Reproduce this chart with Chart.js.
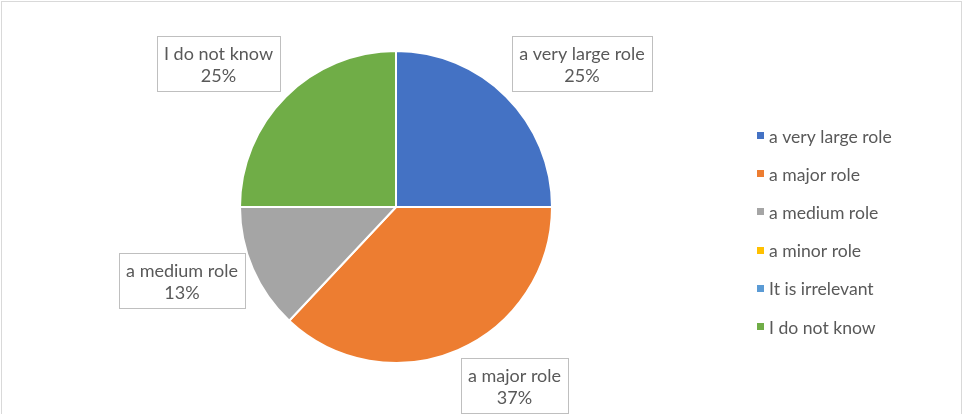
<!DOCTYPE html>
<html>
<head>
<meta charset="utf-8">
<script src="https://cdn.jsdelivr.net/npm/chart.js@4.4.1/dist/chart.umd.min.js"></script>
<style>
  html, body { margin: 0; padding: 0; background: #ffffff; }
  #wrap { position: relative; width: 963px; height: 414px; }
</style>
</head>
<body>
<div id="wrap"><canvas id="c" width="963" height="414"></canvas></div>
<script>
const categories = ["a very large role", "a major role", "a medium role", "a minor role", "It is irrelevant", "I do not know"];
const shares = [25, 37, 13, 0, 0, 25];
const sliceColors = ["#4472C4", "#ED7D31", "#A5A5A5", "#FFC000", "#5B9BD5", "#70AD47"];

const FONT = "Lato";
const FONT_SIZE = 18;
const LEGEND_FONT_SIZE = 17.6;
const TEXT_COLOR = "#595959";

const framePlugin = {
  id: "frame",
  beforeDraw(chart) {
    const ctx = chart.ctx;
    ctx.save();
    ctx.strokeStyle = "#D9D9D9";
    ctx.lineWidth = 1;
    ctx.strokeRect(1.5, 1.5, chart.width - 3, chart.height + 10);
    ctx.restore();
  }
};

const clamp = (v, a, b) => Math.max(a, Math.min(b, v));

const labelPlugin = {
  id: "boxLabels",
  afterDatasetsDraw(chart) {
    const ctx = chart.ctx;
    const meta = chart.getDatasetMeta(0);
    const data = chart.data.datasets[0].data;
    const total = data.reduce((a, b) => a + b, 0);
    ctx.save();
    ctx.font = FONT_SIZE + "px " + FONT;
    meta.data.forEach((arc, i) => {
      const v = data[i];
      if (!v) return;
      const p = arc.getProps(["x", "y", "startAngle", "endAngle", "outerRadius"], true);
      const mid = (p.startAngle + p.endAngle) / 2;
      const c = Math.cos(mid), s = Math.sin(mid);
      const dist = p.outerRadius + 8;
      const ax = p.x + dist * c, ay = p.y + dist * s;
      const line1 = chart.data.labels[i];
      const line2 = Math.round(v / total * 100) + "%";
      const tw = Math.max(ctx.measureText(line1).width, ctx.measureText(line2).width);
      const w = Math.round(tw + 14), h = 55;
      const fx = clamp(c * 3, -1, 1);
      const fy = Math.sign(s) * clamp((Math.abs(s) - 0.3) / 0.33, 0, 1);
      const cx = ax + fx * w / 2, cy = ay + fy * h / 2;
      const left = Math.round(cx - w / 2), top = Math.round(cy - h / 2);
      ctx.fillStyle = "#ffffff";
      ctx.fillRect(left, top, w, h);
      ctx.strokeStyle = "#BFBFBF";
      ctx.lineWidth = 1;
      ctx.strokeRect(left + 0.5, top + 0.5, w, h);
      ctx.fillStyle = TEXT_COLOR;
      ctx.textAlign = "center";
      ctx.textBaseline = "alphabetic";
      ctx.fillText(line1, left + w / 2, top + 24);
      ctx.fillText(line2, left + w / 2, top + 46);
    });
    ctx.restore();
  }
};

const legendPlugin = {
  id: "sideLegend",
  afterDraw(chart) {
    const ctx = chart.ctx;
    const colors = chart.data.datasets[0].backgroundColor;
    const x0 = 757, y0 = 136, step = 38.2;
    ctx.save();
    ctx.font = LEGEND_FONT_SIZE + "px " + FONT;
    ctx.textBaseline = "middle";
    ctx.textAlign = "left";
    chart.data.labels.forEach((lab, i) => {
      const y = y0 + i * step;
      ctx.fillStyle = colors[i];
      ctx.fillRect(x0, Math.round(y - 4), 7, 7);
      ctx.fillStyle = TEXT_COLOR;
      ctx.fillText(lab, x0 + 12, y + 1);
    });
    ctx.restore();
  }
};

new Chart(document.getElementById("c"), {
  type: "pie",
  data: {
    labels: categories,
    datasets: [{
      data: shares,
      backgroundColor: sliceColors,
      borderColor: "#ffffff",
      borderWidth: 2
    }]
  },
  options: {
    responsive: false,
    animation: false,
    layout: { padding: { top: 50, bottom: 50, left: 0, right: 171 } },
    plugins: {
      legend: { display: false },
      tooltip: { enabled: false }
    }
  },
  plugins: [framePlugin, labelPlugin, legendPlugin]
});
</script>
</body>
</html>
